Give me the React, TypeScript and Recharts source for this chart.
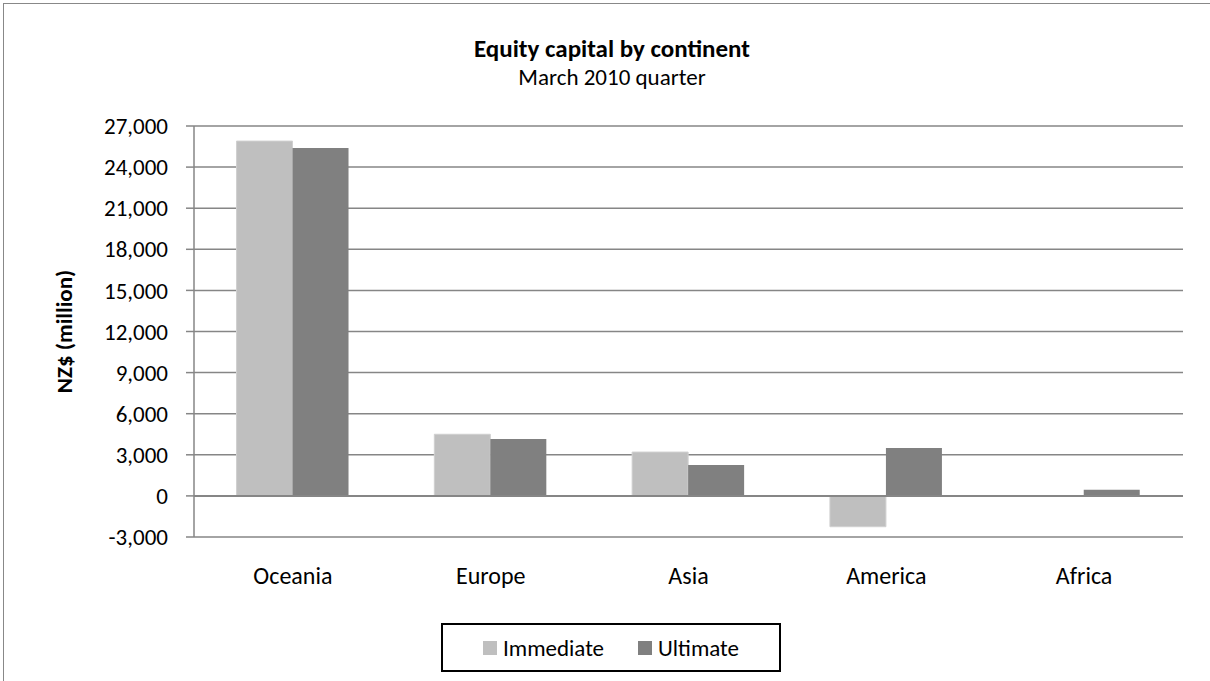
import React from 'react';
import { BarChart, Bar, XAxis, YAxis, CartesianGrid, ReferenceLine, Legend } from 'recharts';

const categories = ['Oceania', 'Europe', 'Asia', 'America', 'Africa'];
const immediateValues = [25900, 4500, 3200, -2250, 0];
const ultimateValues = [25400, 4150, 2250, 3500, 440];
const yTicks = [-3000, 0, 3000, 6000, 9000, 12000, 15000, 18000, 21000, 24000, 27000];

const data = categories.map((c, i) => ({
  name: c,
  Immediate: immediateValues[i],
  Ultimate: ultimateValues[i],
}));

const FONT = 'Carlito, Calibri, Lato, "Liberation Sans", sans-serif';
const GRID = '#868686';
const LIGHT = '#bfbfbf';
const DARK = '#808080';

const fmt = (v: number) => v.toLocaleString('en-US');

const LegendBox = () => (
  <div
    style={{
      width: 336,
      height: 45,
      border: '2px solid #000',
      display: 'flex',
      alignItems: 'center',
      justifyContent: 'center',
      fontFamily: FONT,
      fontSize: 23,
      color: '#000',
      boxSizing: 'content-box',
      background: '#fff',
    }}
  >
    <span style={{ display: 'inline-block', width: 14, height: 14, background: LIGHT, marginRight: 6 }} />
    <span style={{ marginRight: 34 }}>Immediate</span>
    <span style={{ display: 'inline-block', width: 14, height: 14, background: DARK, marginRight: 6 }} />
    <span>Ultimate</span>
  </div>
);

const YLabel = (props: any) => {
  const vb = props.viewBox || { x: 0, y: 0, width: 0, height: 0 };
  const cx = vb.x + 64;
  const cy = vb.y + vb.height / 2;
  return (
    <text
      x={cx}
      y={cy}
      transform={`rotate(-90, ${cx}, ${cy})`}
      textAnchor="middle"
      dominantBaseline="central"
      fontFamily={FONT}
      fontSize={23}
      fontWeight="bold"
      fill="#000"
    >
      NZ$ (million)
    </text>
  );
};

export default function App() {
  return (
    <div
      style={{
        position: 'absolute',
        left: 0,
        top: 0,
        width: 1210,
        height: 681,
        overflow: 'hidden',
        background: '#fff',
      }}
    >
      <div
        style={{
          position: 'absolute',
          left: 3,
          top: 3,
          width: 1212,
          height: 720,
          border: '1.5px solid #888',
        }}
      />
      <div
        style={{
          position: 'absolute',
          left: 12,
          width: 1200,
          top: 35,
          textAlign: 'center',
          fontFamily: FONT,
          fontSize: 25,
          fontWeight: 'bold',
          color: '#000',
          lineHeight: '28px',
        }}
      >
        Equity capital by continent
      </div>
      <div
        style={{
          position: 'absolute',
          left: 12,
          width: 1200,
          top: 63,
          textAlign: 'center',
          fontFamily: FONT,
          fontSize: 23,
          color: '#000',
          lineHeight: '28px',
        }}
      >
        March 2010 quarter
      </div>
      <div style={{ position: 'absolute', left: 0, top: 0 }}>
        <BarChart
          width={1210}
          height={681}
          data={data}
          margin={{ top: 126, right: 27, bottom: 9, left: 0 }}
          barCategoryGap="21.5%"
          barGap={0}
        >
          <CartesianGrid vertical={false} stroke={GRID} strokeWidth={1.5} />
          <XAxis
            dataKey="name"
            axisLine={false}
            tickLine={false}
            tickSize={0}
            tickMargin={30}
            height={86}
            interval={0}
            tick={{ fontFamily: FONT, fontSize: 24, fill: '#000' }}
          />
          <YAxis
            width={194}
            domain={[-3000, 27000]}
            ticks={yTicks}
            interval={0}
            tickFormatter={fmt}
            axisLine={{ stroke: GRID, strokeWidth: 1.5 }}
            tickLine={{ stroke: GRID, strokeWidth: 1.5 }}
            tickSize={8}
            tickMargin={18}
            tick={{ fontFamily: FONT, fontSize: 23, fill: '#000' }}
            label={<YLabel />}
          />
          <ReferenceLine y={0} stroke={GRID} strokeWidth={2} />
          <Legend
            verticalAlign="bottom"
            align="left"
            wrapperStyle={{ left: 441, width: 340, bottom: 9 }}
            content={() => <LegendBox />}
          />
          <Bar dataKey="Immediate" fill={LIGHT} stroke="#d0d0d0" strokeWidth={1} isAnimationActive={false} />
          <Bar dataKey="Ultimate" fill={DARK} isAnimationActive={false} />
        </BarChart>
      </div>
    </div>
  );
}
